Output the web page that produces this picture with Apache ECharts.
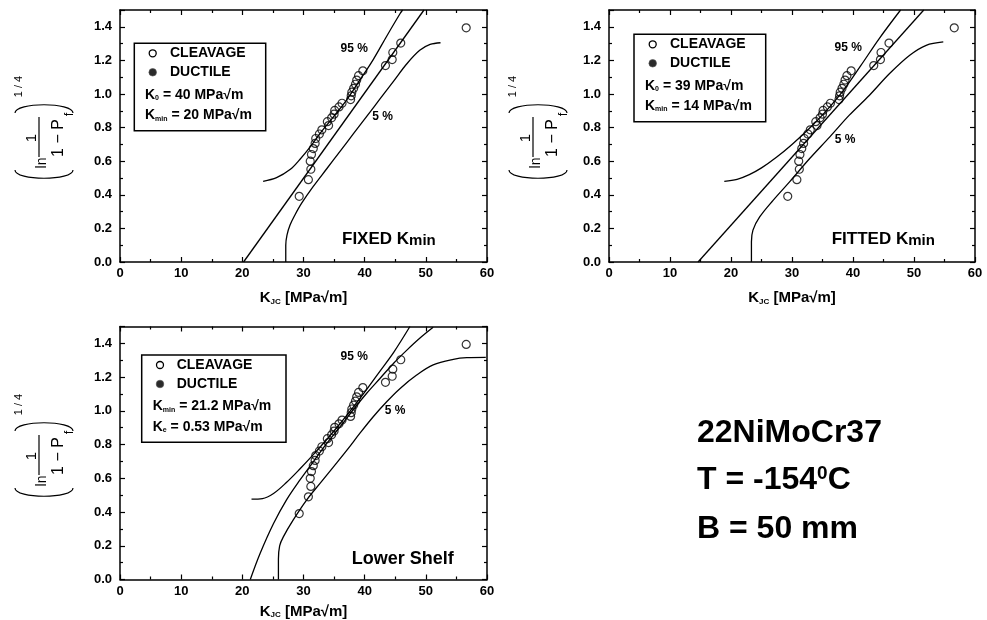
<!DOCTYPE html>
<html>
<head>
<meta charset="utf-8">
<title>22NiMoCr37 Weibull plots</title>
<script src="https://cdn.jsdelivr.net/npm/echarts@6.0.0/dist/echarts.min.js"></script>
<style>
  html, body { margin: 0; padding: 0; background: #fff; }
  #chart { width: 987px; height: 620px; }
</style>
</head>
<body>
<div id="chart"></div>
<script>
// Fracture toughness results, 30 cleavage specimens
const kjc = [29.3, 30.8, 31.2, 31.1, 31.3, 31.6, 31.9, 32.0, 32.6, 33.0,
             34.1, 33.9, 34.6, 35.0, 35.1, 35.8, 36.3, 37.7, 37.8, 37.9,
             38.2, 38.5, 38.7, 39.0, 39.7, 43.4, 44.5, 44.6, 45.9, 56.6];
const rankY = [0.391, 0.490, 0.552, 0.600, 0.640, 0.675, 0.706, 0.735, 0.762, 0.787,
               0.812, 0.835, 0.858, 0.880, 0.902, 0.923, 0.945, 0.967, 0.989, 1.011,
               1.034, 1.058, 1.083, 1.109, 1.138, 1.169, 1.205, 1.247, 1.303, 1.394];
const ductileK = [];
const ductileY = [];

// Fixed K_min fit and its 5 % / 95 % bounds
const fixedMedian = [[20.2, 0], [49.7, 1.5]];
const fixedUpper = [[23.4, 0.48], [25.6, 0.502], [27.8, 0.55], [29.4, 0.61], [31.1, 0.685],
                    [32.7, 0.765], [34.9, 0.864], [37.1, 0.967], [39.2, 1.082], [41.4, 1.205],
                    [43.6, 1.344], [45.8, 1.479], [46.2, 1.5]];
const fixedLower = [[27.1, 0], [27.1, 0.1], [27.3, 0.16], [27.8, 0.22], [28.6, 0.28], [29.7, 0.35],
                    [31.6, 0.45], [33.8, 0.555], [36.0, 0.66], [38.2, 0.765], [40.4, 0.87],
                    [42.6, 0.975], [44.8, 1.08], [46.9, 1.18], [49.0, 1.26], [50.7, 1.295], [52.4, 1.305]];

// Fitted K_min
const fittedMedian = [[14.6, 0], [51.6, 1.5]];
const fittedUpper = [[18.9, 0.48], [21.0, 0.492], [23.0, 0.52], [25.0, 0.56], [27.5, 0.625],
                     [30.0, 0.70], [32.7, 0.79], [35.5, 0.895], [38.4, 1.02], [41.3, 1.17],
                     [44.3, 1.33], [47.8, 1.5]];
const fittedLower = [[23.35, 0], [23.35, 0.12], [23.6, 0.19], [24.7, 0.268], [26.9, 0.367],
                     [29.6, 0.477], [32.9, 0.616], [36.2, 0.745], [39.4, 0.874], [42.7, 0.993],
                     [46.0, 1.122], [49.3, 1.231], [52.0, 1.29], [54.8, 1.31]];

// Lower shelf model
const shelfMedian = [[21.3, 0], [22.9, 0.154], [25.1, 0.332], [27.2, 0.471], [29.4, 0.589],
                     [31.6, 0.698], [33.8, 0.807], [36.0, 0.906], [38.1, 1.005], [40.3, 1.103],
                     [42.5, 1.192], [44.7, 1.281], [46.9, 1.36], [49.0, 1.43], [51.2, 1.495]];
const shelfUpper = [[21.5, 0.477], [23.3, 0.48], [25.1, 0.51], [27.2, 0.575], [29.4, 0.655],
                    [31.6, 0.74], [33.8, 0.83], [36.0, 0.925], [38.2, 1.025], [40.4, 1.13],
                    [42.6, 1.24], [44.8, 1.35], [47.4, 1.5]];
const shelfLower = [[25.9, 0], [25.9, 0.12], [26.1, 0.2], [26.7, 0.253], [28.3, 0.352],
                    [30.5, 0.471], [32.7, 0.57], [34.9, 0.668], [37.1, 0.767], [39.2, 0.866],
                    [41.4, 0.965], [43.6, 1.054], [45.8, 1.133], [48.5, 1.212], [51.2, 1.272],
                    [54.5, 1.305], [56.7, 1.315], [59.8, 1.317]];

const xTickStep = 10;
const yTickStep = 0.2;

const FONT = '"Liberation Sans", Arial, Helvetica, sans-serif';
const BLACK = '#000';

const grids = [
  { left: 120, top: 10, width: 367, height: 252 },
  { left: 609, top: 10, width: 366, height: 252 },
  { left: 120, top: 326.5, width: 367, height: 253 }
];

const tickLine = { color: BLACK, width: 1.2 };
function axisBase(g) {
  return {
    type: 'value', gridIndex: g,
    axisLine: { show: true, onZero: false, lineStyle: { color: BLACK, width: 1.5 } },
    axisTick: { show: true, inside: true, length: 5, lineStyle: tickLine },
    minorTick: { show: true, splitNumber: 2, length: 3, lineStyle: tickLine },
    splitLine: { show: false },
    minorSplitLine: { show: false }
  };
}
const labelStyle = { fontFamily: FONT, fontWeight: 'bold', fontSize: 13, color: BLACK };

const xAxes = [], yAxes = [];
grids.forEach((_, g) => {
  xAxes.push(Object.assign(axisBase(g), { min: 0, max: 60, interval: xTickStep, position: 'bottom',
    axisLabel: Object.assign({ margin: 5 }, labelStyle) }));
  xAxes.push(Object.assign(axisBase(g), { min: 0, max: 60, interval: xTickStep, position: 'top',
    axisLabel: { show: false } }));
  yAxes.push(Object.assign(axisBase(g), { min: 0, max: 1.5, interval: yTickStep, position: 'left',
    axisLabel: Object.assign({ margin: 8, showMaxLabel: false, formatter: v => v.toFixed(1) }, labelStyle) }));
  yAxes.push(Object.assign(axisBase(g), { min: 0, max: 1.5, interval: yTickStep, position: 'right',
    axisLabel: { show: false } }));
});

function curve(g, data, smooth) {
  return {
    type: 'line', xAxisIndex: 2 * g, yAxisIndex: 2 * g, data: data,
    showSymbol: false, symbol: 'none', smooth: smooth ? 0.35 : false, clip: true,
    lineStyle: { color: BLACK, width: 1.3 }, silent: true, z: 2
  };
}
function points(g) {
  return [{
    type: 'scatter', xAxisIndex: 2 * g, yAxisIndex: 2 * g,
    data: kjc.map((k, i) => [k, rankY[i]]),
    symbol: 'circle', symbolSize: 8,
    itemStyle: { color: 'rgba(0,0,0,0)', borderColor: BLACK, borderWidth: 1.2 }, z: 3
  }, {
    type: 'scatter', xAxisIndex: 2 * g, yAxisIndex: 2 * g,
    data: ductileK.map((k, i) => [k, ductileY[i]]),
    symbol: 'circle', symbolSize: 8, itemStyle: { color: '#222' }, z: 3
  }];
}

const series = [
  curve(0, fixedMedian, false), curve(0, fixedUpper, true), curve(0, fixedLower, true), ...points(0),
  curve(1, fittedMedian, false), curve(1, fittedUpper, true), curve(1, fittedLower, true), ...points(1),
  curve(2, shelfMedian, true), curve(2, shelfUpper, true), curve(2, shelfLower, true), ...points(2)
];

// ---- text and decorations ----
const rich = {
  b: { fontFamily: FONT, fontWeight: 'bold', fontSize: 14, lineHeight: 20, fill: BLACK, verticalAlign: 'bottom' },
  s: { fontFamily: FONT, fontWeight: 'bold', fontSize: 7, lineHeight: 9, fill: BLACK, verticalAlign: 'bottom' }
};
function rtext(str, x, y, align, r) {
  return { type: 'text', x: x, y: y, z: 10,
    style: { text: str, rich: r || rich, align: align || 'left', verticalAlign: 'middle', fill: BLACK } };
}
function ptext(str, x, y, size, weight, align) {
  return { type: 'text', x: x, y: y, z: 10,
    style: { text: str, font: `${weight || 'bold'} ${size}px ${FONT}`, fill: BLACK,
             align: align || 'left', verticalAlign: 'middle' } };
}

function legend(box, rows, cx, tx, kx, lines) {
  return [
    { type: 'rect', z: 8, shape: box, style: { fill: '#fff', stroke: BLACK, lineWidth: 1.5 } },
    { type: 'circle', z: 10, shape: { cx: cx, cy: rows[0], r: 3.5 }, style: { fill: '#fff', stroke: BLACK, lineWidth: 1.3 } },
    { type: 'circle', z: 10, shape: { cx: cx, cy: rows[1], r: 3.8 }, style: { fill: '#2a2a2a', stroke: '#555', lineWidth: 0.6 } },
    ptext('CLEAVAGE', tx, rows[0], 14),
    ptext('DUCTILE', tx, rows[1], 14),
    rtext(lines[0], kx, rows[2]),
    rtext(lines[1], kx, rows[3])
  ];
}

const bigRich = {
  b: { fontFamily: FONT, fontWeight: 'bold', fontSize: 17, lineHeight: 28, fill: BLACK, verticalAlign: 'bottom' },
  s: { fontFamily: FONT, fontWeight: 'bold', fontSize: 15, lineHeight: 15, fill: BLACK, verticalAlign: 'bottom' }
};
const titleRich = {
  b: { fontFamily: FONT, fontWeight: 'bold', fontSize: 15, lineHeight: 23, fill: BLACK, verticalAlign: 'bottom' },
  s: { fontFamily: FONT, fontWeight: 'bold', fontSize: 8, lineHeight: 10, fill: BLACK, verticalAlign: 'bottom' }
};

// Rotated ordinate title: (ln 1/(1-P_f))^(1/4), laid out horizontally then turned 90 degrees
function yTitle(cx, cy) {
  const t = (s, u, v, size) => ({ type: 'text', x: u, y: v,
    style: { text: s, font: `${size}px ${FONT}`, fill: BLACK, align: 'center', verticalAlign: 'middle' } });
  const stroke = { stroke: BLACK, lineWidth: 1.2, fill: null };
  return {
    type: 'group', x: cx, y: cy, rotation: Math.PI / 2, z: 10,
    children: [
      { type: 'bezierCurve', shape: { x1: -30, y1: -29, cpx1: -41, cpy1: -29, cpx2: -41, cpy2: 29, x2: -30, y2: 29 }, style: stroke },
      { type: 'bezierCurve', shape: { x1: 27, y1: -29, cpx1: 38, cpy1: -29, cpx2: 38, cpy2: 29, x2: 27, y2: 29 }, style: stroke },
      t('ln', -23, -1.5, 14),
      { type: 'line', shape: { x1: -17, y1: -5, x2: 23, y2: -5 }, style: { stroke: BLACK, lineWidth: 1.2 } },
      t('1', 2, -12, 15),
      t('1 \u2212 P', 2, 15, 16),
      t('f', 25.5, 25, 13),
      t('1 / 4', 53.5, -25.5, 11)
    ]
  };
}

const graphics = [].concat(
  legend({ x: 134.3, y: 43.3, width: 131.4, height: 87.4 }, [53.3, 72.3, 91.7, 112.3], 152.7, 170, 145,
         ['{b|K}{s|0}{b| = 40 MPa\u221Am}', '{b|K}{s|min}{b| = 20 MPa\u221Am}']),
  legend({ x: 634, y: 34.3, width: 131.7, height: 87.4 }, [44.3, 63.3, 82.7, 103], 652.7, 670, 645,
         ['{b|K}{s|0}{b| = 39 MPa\u221Am}', '{b|K}{s|min}{b| = 14 MPa\u221Am}']),
  legend({ x: 141.7, y: 355, width: 144.3, height: 87.3 }, [365, 384, 403.3, 424], 160, 176.7, 152.7,
         ['{b|K}{s|min}{b| = 21.2 MPa\u221Am}', '{b|K}{s|e}{b| = 0.53 MPa\u221Am}']),
  [
    ptext('95 %', 354.3, 48.3, 12, 'bold', 'center'),
    ptext('5 %', 382.7, 116.7, 12, 'bold', 'center'),
    ptext('95 %', 848.3, 47.3, 12, 'bold', 'center'),
    ptext('5 %', 845, 140, 12, 'bold', 'center'),
    ptext('95 %', 354.3, 356.7, 12, 'bold', 'center'),
    ptext('5 %', 395, 411, 12, 'bold', 'center'),
    rtext('{b|FIXED K}{s|min}', 342, 234, 'left', bigRich),
    rtext('{b|FITTED K}{s|min}', 831.7, 234, 'left', bigRich),
    ptext('Lower Shelf', 351.7, 559.3, 18, 'bold', 'left'),
    rtext('{b|K}{s|JC}{b| [MPa\u221Am]}', 303.5, 294, 'center', titleRich),
    rtext('{b|K}{s|JC}{b| [MPa\u221Am]}', 792, 294, 'center', titleRich),
    rtext('{b|K}{s|JC}{b| [MPa\u221Am]}', 303.5, 607.5, 'center', titleRich),
    yTitle(44, 140),
    yTitle(538, 140),
    yTitle(44, 458),
    ptext('22NiMoCr37', 697, 433, 32, 'bold', 'left'),
    rtext('{b|T = -154}{sup|0}{b|C}', 697, 481, 'left', {
      b: { fontFamily: FONT, fontWeight: 'bold', fontSize: 32, lineHeight: 34, fill: BLACK, verticalAlign: 'top' },
      sup: { fontFamily: FONT, fontWeight: 'bold', fontSize: 19, lineHeight: 19, fill: BLACK, verticalAlign: 'top' }
    }),
    ptext('B = 50 mm', 697, 529, 32, 'bold', 'left')
  ]
);

const chart = echarts.init(document.getElementById('chart'), null, { renderer: 'canvas' });
chart.setOption({
  animation: false,
  backgroundColor: '#fff',
  grid: grids,
  xAxis: xAxes,
  yAxis: yAxes,
  series: series,
  graphic: graphics
});
</script>
</body>
</html>
